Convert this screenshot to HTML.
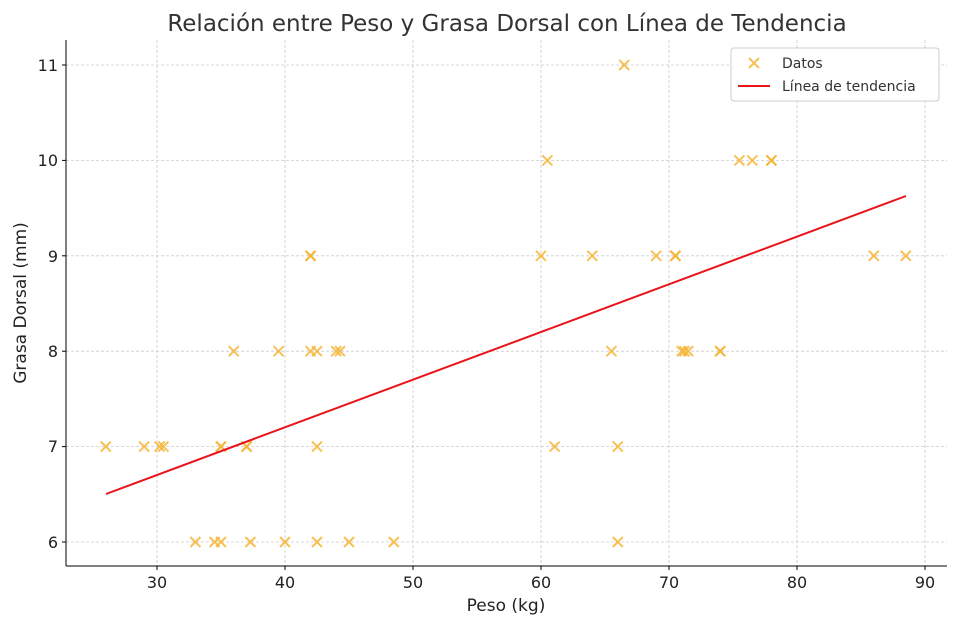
<!DOCTYPE html>
<html><head><meta charset="utf-8"><style>body{margin:0;background:#fff}</style></head><body>
<svg width="958" height="627" xmlns="http://www.w3.org/2000/svg" xmlns:xlink="http://www.w3.org/1999/xlink" font-family="'DejaVu Sans','Liberation Sans',sans-serif">
<defs><path id="m" d="M-5,-5L5,5M-5,5L5,-5" stroke="#f5b22c" stroke-opacity="0.8" stroke-width="2"/></defs>
<rect width="958" height="627" fill="#fff"/>
<g stroke="#cccccc" stroke-dasharray="3,2" stroke-width="0.8">
<line x1="157" y1="40" x2="157" y2="566"/><line x1="285" y1="40" x2="285" y2="566"/><line x1="413" y1="40" x2="413" y2="566"/><line x1="541" y1="40" x2="541" y2="566"/><line x1="669" y1="40" x2="669" y2="566"/><line x1="797" y1="40" x2="797" y2="566"/><line x1="925" y1="40" x2="925" y2="566"/>
<line x1="66" y1="65" x2="947" y2="65"/><line x1="66" y1="160.4" x2="947" y2="160.4"/><line x1="66" y1="255.8" x2="947" y2="255.8"/><line x1="66" y1="351.2" x2="947" y2="351.2"/><line x1="66" y1="446.6" x2="947" y2="446.6"/><line x1="66" y1="542" x2="947" y2="542"/>
</g>
<g>
<use href="#m" xlink:href="#m" x="624.2" y="65"/>
<use href="#m" xlink:href="#m" x="547.4" y="160.4"/><use href="#m" xlink:href="#m" x="739.4" y="160.4"/><use href="#m" xlink:href="#m" x="752.2" y="160.4"/><use href="#m" xlink:href="#m" x="771.4" y="160.4"/><use href="#m" xlink:href="#m" x="771.4" y="160.4"/>
<use href="#m" xlink:href="#m" x="310.6" y="255.8"/><use href="#m" xlink:href="#m" x="310.6" y="255.8"/><use href="#m" xlink:href="#m" x="541" y="255.8"/><use href="#m" xlink:href="#m" x="592.2" y="255.8"/><use href="#m" xlink:href="#m" x="656.2" y="255.8"/><use href="#m" xlink:href="#m" x="675.4" y="255.8"/><use href="#m" xlink:href="#m" x="675.4" y="255.8"/><use href="#m" xlink:href="#m" x="873.8" y="255.8"/><use href="#m" xlink:href="#m" x="905.8" y="255.8"/>
<use href="#m" xlink:href="#m" x="233.8" y="351.2"/><use href="#m" xlink:href="#m" x="278.6" y="351.2"/><use href="#m" xlink:href="#m" x="310.6" y="351.2"/><use href="#m" xlink:href="#m" x="317" y="351.2"/><use href="#m" xlink:href="#m" x="336.2" y="351.2"/><use href="#m" xlink:href="#m" x="340" y="351.2"/><use href="#m" xlink:href="#m" x="611.4" y="351.2"/><use href="#m" xlink:href="#m" x="681.8" y="351.2"/><use href="#m" xlink:href="#m" x="684.4" y="351.2"/><use href="#m" xlink:href="#m" x="688.2" y="351.2"/><use href="#m" xlink:href="#m" x="720.2" y="351.2"/><use href="#m" xlink:href="#m" x="720.2" y="351.2"/>
<use href="#m" xlink:href="#m" x="105.8" y="446.6"/><use href="#m" xlink:href="#m" x="144.2" y="446.6"/><use href="#m" xlink:href="#m" x="159.6" y="446.6"/><use href="#m" xlink:href="#m" x="163.4" y="446.6"/><use href="#m" xlink:href="#m" x="221" y="446.6"/><use href="#m" xlink:href="#m" x="221" y="446.6"/><use href="#m" xlink:href="#m" x="246.6" y="446.6"/><use href="#m" xlink:href="#m" x="246.6" y="446.6"/><use href="#m" xlink:href="#m" x="317" y="446.6"/><use href="#m" xlink:href="#m" x="554.6" y="446.6"/><use href="#m" xlink:href="#m" x="617.8" y="446.6"/>
<use href="#m" xlink:href="#m" x="195.4" y="542"/><use href="#m" xlink:href="#m" x="214.6" y="542"/><use href="#m" xlink:href="#m" x="221" y="542"/><use href="#m" xlink:href="#m" x="250.4" y="542"/><use href="#m" xlink:href="#m" x="285" y="542"/><use href="#m" xlink:href="#m" x="317" y="542"/><use href="#m" xlink:href="#m" x="349" y="542"/><use href="#m" xlink:href="#m" x="393.8" y="542"/><use href="#m" xlink:href="#m" x="617.8" y="542"/>
</g>
<line x1="106" y1="494" x2="906" y2="196" stroke="#e8141a" stroke-width="2"/>
<g stroke="#000" stroke-width="1"><line x1="66" y1="40" x2="66" y2="566"/><line x1="66" y1="566" x2="947" y2="566"/></g>
<g stroke="#000"><line x1="157" y1="566" x2="157" y2="570"/><line x1="285" y1="566" x2="285" y2="570"/><line x1="413" y1="566" x2="413" y2="570"/><line x1="541" y1="566" x2="541" y2="570"/><line x1="669" y1="566" x2="669" y2="570"/><line x1="797" y1="566" x2="797" y2="570"/><line x1="925" y1="566" x2="925" y2="570"/>
<line x1="62" y1="65" x2="66" y2="65"/><line x1="62" y1="160.4" x2="66" y2="160.4"/><line x1="62" y1="255.8" x2="66" y2="255.8"/><line x1="62" y1="351.2" x2="66" y2="351.2"/><line x1="62" y1="446.6" x2="66" y2="446.6"/><line x1="62" y1="542" x2="66" y2="542"/></g>
<g font-size="16" fill="#222" text-anchor="middle"><text x="157" y="588">30</text><text x="285" y="588">40</text><text x="413" y="588">50</text><text x="541" y="588">60</text><text x="669" y="588">70</text><text x="797" y="588">80</text><text x="925" y="588">90</text></g>
<g font-size="16" fill="#222" text-anchor="end"><text x="58" y="71">11</text><text x="58" y="166">10</text><text x="58" y="262">9</text><text x="58" y="357">8</text><text x="58" y="452">7</text><text x="58" y="548">6</text></g>
<text x="506" y="611" font-size="17" fill="#222" text-anchor="middle">Peso (kg)</text>
<text transform="translate(26,303) rotate(-90)" font-size="17" fill="#222" text-anchor="middle">Grasa Dorsal (mm)</text>
<text x="507" y="31" font-size="23" fill="#333" text-anchor="middle">Relación entre Peso y Grasa Dorsal con Línea de Tendencia</text>
<rect x="731" y="48" width="208" height="53" fill="#fff" stroke="#ccc" rx="3"/>
<use href="#m" xlink:href="#m" x="754" y="63"/>
<line x1="738" y1="86" x2="770" y2="86" stroke="#e8141a" stroke-width="2"/>
<text x="782" y="68" font-size="14" fill="#333">Datos</text>
<text x="782" y="91" font-size="14" fill="#333">Línea de tendencia</text>
</svg>
</body></html>
